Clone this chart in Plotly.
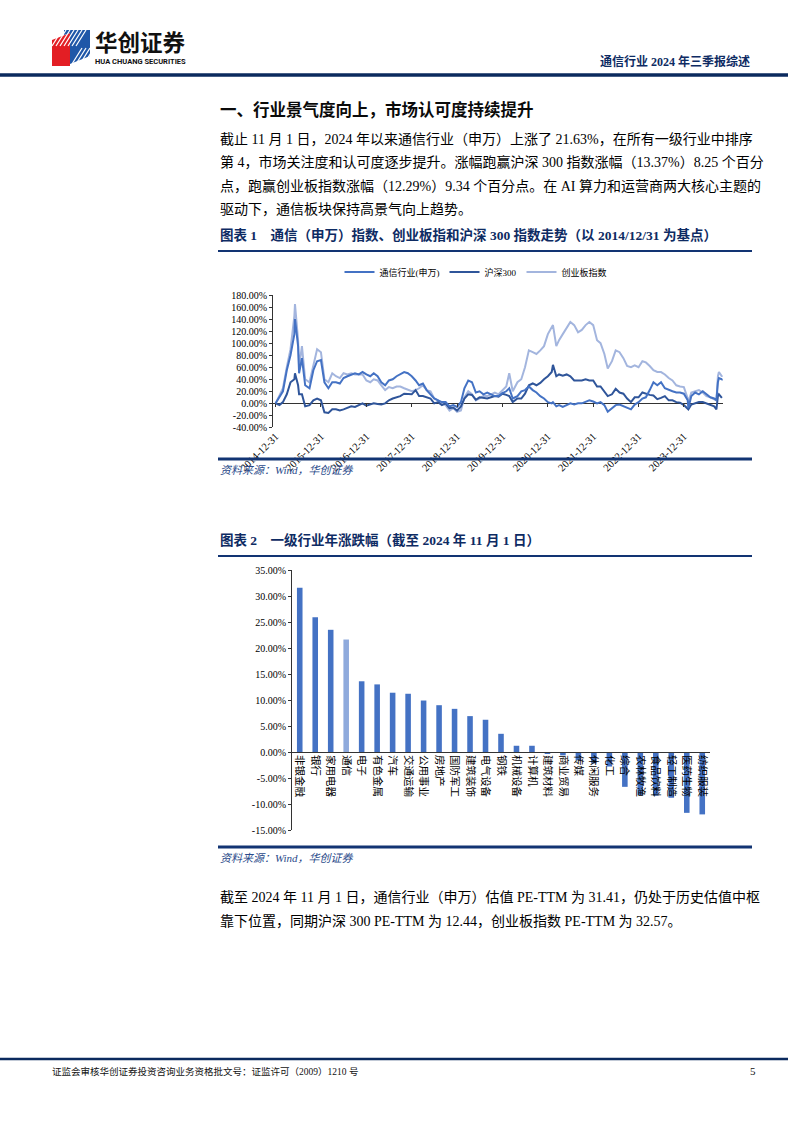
import plotly.graph_objects as go

W, H = 794, 1123


def px(x):
    return x / W


def py(y):
    return 1 - y / H


# ---------------- Chart 1 data (cumulative change since 2014-12-31, %) ----------------
dates = [
    "2014-12-31", "2015-01-31", "2015-02-28", "2015-03-31", "2015-04-30", "2015-05-31",
    "2015-06-05", "2015-06-30", "2015-07-08", "2015-07-31", "2015-08-26", "2015-09-30",
    "2015-10-31", "2015-11-30", "2015-12-31", "2016-01-28", "2016-02-29", "2016-03-31",
    "2016-04-30", "2016-05-31", "2016-06-30", "2016-07-31", "2016-08-31", "2016-09-30",
    "2016-10-31", "2016-11-30", "2016-12-31", "2017-01-31", "2017-02-28", "2017-03-31",
    "2017-04-30", "2017-05-31", "2017-06-30", "2017-07-31", "2017-08-31", "2017-09-30",
    "2017-10-31", "2017-11-30", "2017-12-31", "2018-01-31", "2018-02-28", "2018-03-31",
    "2018-04-30", "2018-05-31", "2018-06-30", "2018-07-31", "2018-08-31", "2018-09-30",
    "2018-10-31", "2018-11-30", "2018-12-31", "2019-01-31", "2019-02-28", "2019-03-31",
    "2019-04-30", "2019-05-31", "2019-06-30", "2019-07-31", "2019-08-31", "2019-09-30",
    "2019-10-31", "2019-11-30", "2019-12-31", "2020-01-31", "2020-02-24", "2020-03-23",
    "2020-04-30", "2020-05-31", "2020-06-30", "2020-07-31", "2020-08-31", "2020-09-30",
    "2020-10-31", "2020-11-30", "2020-12-31", "2021-01-31", "2021-02-10", "2021-03-09",
    "2021-03-31", "2021-04-30", "2021-05-31", "2021-06-30", "2021-07-31", "2021-08-31",
    "2021-09-30", "2021-10-31", "2021-11-30", "2021-12-31", "2022-01-31", "2022-02-28",
    "2022-03-31", "2022-04-27", "2022-05-31", "2022-06-30", "2022-07-31", "2022-08-31",
    "2022-09-30", "2022-10-31", "2022-11-30", "2022-12-31", "2023-01-31", "2023-02-28",
    "2023-03-31", "2023-04-30", "2023-05-31", "2023-06-30", "2023-07-31", "2023-08-31",
    "2023-09-30", "2023-10-31", "2023-11-30", "2023-12-31", "2024-01-31", "2024-02-05",
    "2024-02-29", "2024-03-31", "2024-04-30", "2024-05-31", "2024-06-30", "2024-07-31",
    "2024-08-31", "2024-09-18", "2024-09-30", "2024-10-08", "2024-10-31", "2024-11-01",
]

telecom = [
    0, 10, 20, 55, 80, 115,
    140, 95, 50, 75, 30, 25,
    55, 70, 72, 35, 25, 35,
    35, 33, 42, 45, 48, 50,
    48, 52, 48, 45, 50, 45,
    35, 30, 38, 40, 45, 48,
    52, 50, 45, 38, 30, 33,
    22, 15, 8, 5, 2, 2,
    -5, -3, -6, 2, 25, 38,
    35, 18, 20, 15, 18, 15,
    12, 12, 17, 20, 25, 8,
    12, 20, 22, 28, 22, 18,
    12, 8, 2, 0, 2, -5,
    -3, -6, -3, 0, -2, 0,
    0, 2, 5, 3, 0, 2,
    -3, -14, -8, -3, -2, -5,
    -8, -10, -2, 2, 8, 10,
    22, 35, 30, 35, 25, 22,
    20, 18, 18, 16, 5, -8,
    12, 18, 15, 20, 15, 10,
    8, 5, 35, 42, 40, 41,
]

hs300 = [
    0, -3, 2, 15, 35, 40,
    50, 30, 15, 15, -5, -3,
    5, 8, 5, -15, -16, -10,
    -10, -12, -10, -8, -5, -6,
    -3, 0, -4, -2, 0, -1,
    -2, 0, 5, 8, 10, 12,
    16, 15, 15, 22, 12, 12,
    10, 8, 0, 2, -3, 0,
    -8, -7, -12, -5, 8, 15,
    14, 6, 10, 9, 8, 10,
    12, 11, 16, 14, 12, 2,
    8, 8, 16, 30, 33, 30,
    34, 40, 45, 52, 64, 45,
    48, 46, 48, 45, 38, 38,
    38, 40, 38, 38, 28, 28,
    20, 12, 15, 24, 18, 16,
    8, 2, 10, 10, 18, 16,
    14, 13, 7, 9, 12, 5,
    5, 2, 1, -3, -8, -10,
    -2, 0, 2, 2, 0, -3,
    -5, -10, 12, 15, 10, 9,
]

chinext = [
    0, 12, 25, 60, 90, 145,
    165, 105, 60, 95, 40, 35,
    65, 90, 85, 40, 35, 50,
    45, 42, 50, 48, 50, 48,
    48, 48, 38, 35, 40, 38,
    30, 22, 27, 25, 28, 28,
    25, 22, 20, 22, 25, 30,
    22, 20, 8, 5, 0, -3,
    -12, -8, -14, -12, 10, 20,
    15, 5, 8, 12, 12, 15,
    18, 15, 22, 28, 50, 20,
    35, 40, 60, 88, 85, 82,
    88, 95, 115, 125, 130, 95,
    105, 115, 125, 135, 130, 118,
    122, 130, 135, 130, 105, 100,
    82, 58, 70, 88, 85, 75,
    62, 60, 63, 60, 70, 68,
    62, 55, 52, 52, 48, 42,
    38, 30, 28, 27, 8, 2,
    18, 20, 22, 18, 12, 10,
    6, 5, 45, 52, 45, 44,
]

year_ticks = ["2014-12-31", "2015-12-31", "2016-12-31", "2017-12-31", "2018-12-31",
              "2019-12-31", "2020-12-31", "2021-12-31", "2022-12-31", "2023-12-31"]
y1_ticks = [-40, -20, 0, 20, 40, 60, 80, 100, 120, 140, 160, 180]

# ---------------- Chart 2 data (YTD change to 2024-11-01, %) ----------------
industries = ["非银金融", "银行", "家用电器", "通信", "电子", "有色金属", "汽车", "交通运输",
              "公用事业", "房地产", "国防军工", "建筑装饰", "电气设备", "钢铁", "机械设备",
              "计算机", "建筑材料", "商业贸易", "传媒", "休闲服务", "化工", "综合",
              "农林牧渔", "食品饮料", "轻工制造", "医药生物", "纺织服装"]
returns = [31.6, 25.9, 23.5, 21.63, 13.6, 13.0, 11.4, 11.2,
           9.9, 9.0, 8.3, 6.9, 6.2, 3.5, 1.2,
           1.2, -0.2, -0.65, -1.6, -2.2, -2.8, -6.7,
           -8.3, -8.4, -8.8, -11.7, -12.0]
y2_ticks = [-15, -10, -5, 0, 5, 10, 15, 20, 25, 30, 35]

# ---------------- styles ----------------
SERIF = "Liberation Serif, Times New Roman, Noto Sans CJK SC"
NAVY = "#123473"
TITLE_NAVY = "#0E2B63"
C_TEL = "#4472C4"
C_HS = "#2F559A"
C_CY = "#A3B5DE"
C_BAR = "#4472C4"
C_BAR_HI = "#8FAADC"


def pct_label(v):
    return f"{v:.2f}%"


fig = go.Figure()

# Chart 1 lines
fig.add_trace(go.Scatter(x=dates, y=chinext, name="创业板指数", mode="lines",
                         line=dict(color=C_CY, width=2), legendrank=3,
                         xaxis="x", yaxis="y"))
fig.add_trace(go.Scatter(x=dates, y=hs300, name="沪深300", mode="lines",
                         line=dict(color=C_HS, width=2), legendrank=2,
                         xaxis="x", yaxis="y"))
fig.add_trace(go.Scatter(x=dates, y=telecom, name="通信行业(申万)", mode="lines",
                         line=dict(color=C_TEL, width=2), legendrank=1,
                         xaxis="x", yaxis="y"))
# helper trace for the tick-mark axis at zero
fig.add_trace(go.Scatter(x=[dates[0]], y=[0], mode="markers", marker=dict(opacity=0),
                         showlegend=False, hoverinfo="skip", xaxis="x2", yaxis="y"))

# Chart 2 bars
bar_colors = [C_BAR_HI if n == "通信" else C_BAR for n in industries]
fig.add_trace(go.Bar(x=industries, y=returns, marker=dict(color=bar_colors, line=dict(width=0)),
                     showlegend=False, xaxis="x3", yaxis="y3"))

# domains
y1_dom = [py(427.4), py(295)]
y1_rng = [-40, 180]
y1_zero = y1_dom[0] + (0 - y1_rng[0]) / (y1_rng[1] - y1_rng[0]) * (y1_dom[1] - y1_dom[0])
y2_dom = [py(830), py(570)]
y2_rng = [-15, 35]
y2_zero = y2_dom[0] + (0 - y2_rng[0]) / (y2_rng[1] - y2_rng[0]) * (y2_dom[1] - y2_dom[0])
x_rng = ["2014-12-10", "2024-11-10"]

axis_font = dict(family=SERIF, size=10, color="#000")

fig.update_layout(
    width=W, height=H, margin=dict(l=0, r=0, t=0, b=0, pad=0, autoexpand=False),
    paper_bgcolor="white", plot_bgcolor="rgba(0,0,0,0)",
    font=dict(family=SERIF, color="#000"),
    showlegend=True,
    legend=dict(orientation="h", x=px(476), xanchor="center", y=py(272), yanchor="middle",
                font=dict(family=SERIF, size=9, color="#000"), itemwidth=30,
                bgcolor="rgba(0,0,0,0)", traceorder="normal"),
    bargap=0.64,
    xaxis=dict(domain=[px(273), px(723)], anchor="y", type="date", range=x_rng,
               tickmode="array", tickvals=year_ticks, ticktext=year_ticks, tickangle=-45,
               tickfont=dict(family=SERIF, size=10.5, color="#000"), showgrid=False,
               showline=False, ticks="", zeroline=False, automargin=False),
    xaxis2=dict(overlaying="x", anchor="free", position=y1_zero, side="bottom", type="date",
                range=x_rng, tickmode="array", tickvals=year_ticks, showticklabels=False,
                ticks="outside", ticklen=3, tickcolor="#333", showgrid=False, showline=False,
                zeroline=False, automargin=False),
    yaxis=dict(domain=y1_dom, anchor="x", range=y1_rng, tickmode="array", tickvals=y1_ticks,
               ticktext=[pct_label(v) for v in y1_ticks], tickfont=axis_font,
               showline=True, linecolor="#333", linewidth=1, ticks="outside", ticklen=3,
               tickcolor="#333", showgrid=False, zeroline=True, zerolinecolor="#333",
               zerolinewidth=1.2, automargin=False),
    xaxis3=dict(domain=[px(292), px(710)], anchor="free", position=y2_zero, type="category",
                tickangle=90, tickfont=dict(family=SERIF, size=10.5, color="#000"),
                showline=True, linecolor="#333", linewidth=1, ticks="", showgrid=False,
                zeroline=False, automargin=False),
    yaxis3=dict(domain=y2_dom, anchor="x3", range=y2_rng, tickmode="array", tickvals=y2_ticks,
                ticktext=[pct_label(v) for v in y2_ticks], tickfont=axis_font,
                showline=True, linecolor="#333", linewidth=1, ticks="outside", ticklen=3,
                tickcolor="#333", showgrid=False, zeroline=False, automargin=False),
)

shapes = []


def hline(y, x0, x1, width, color=NAVY):
    shapes.append(dict(type="line", xref="paper", yref="paper", x0=px(x0), x1=px(x1),
                       y0=py(y), y1=py(y), line=dict(color=color, width=width)))


def poly(points, color):
    d = "M " + " L ".join(f"{px(a):.5f} {py(b):.5f}" for a, b in points) + " Z"
    shapes.append(dict(type="path", xref="paper", yref="paper", path=d,
                       fillcolor=color, line=dict(width=0)))


# header & page rules
hline(75, 0, 788, 3.5, "#0B2A5E")
hline(1059, 0, 788, 2.5, "#0B2A5E")
# chart frames
hline(251, 218, 752, 2)
hline(459, 218, 752, 3)
hline(556, 218, 752, 2)
hline(847, 218, 752, 3)

# logo
poly([(52, 40), (70, 33), (70, 66), (52, 66)], "#E31E24")
poly([(64, 30), (90, 30), (90, 56), (70, 64), (70, 33), (64, 35)], "#1F57A8")
for k in range(7):
    x0 = 52 + 4 * k
    shapes.append(dict(type="line", xref="paper", yref="paper",
                       x0=px(x0), y0=py(46), x1=px(x0 + 10), y1=py(30),
                       line=dict(color="white", width=1.2)))
for k in range(5):
    x0 = 72 + 4 * k
    shapes.append(dict(type="line", xref="paper", yref="paper",
                       x0=px(x0), y0=py(64), x1=px(x0 + 10), y1=py(48),
                       line=dict(color="white", width=1.2)))

annotations = []


def text(x, y, s, size, color="#000", xanchor="left", family=SERIF):
    annotations.append(dict(x=px(x), y=py(y), xref="paper", yref="paper", text=s,
                            showarrow=False, xanchor=xanchor, yanchor="middle",
                            font=dict(family=family, size=size, color=color)))


# header texts
text(93, 41, "<b>华创证券</b>", 22.5, "#111", family="Noto Sans CJK SC")
text(93, 62, "<b>HUA CHUANG SECURITIES</b>", 7.5, "#111", family="Roboto, Noto Sans")
text(752, 62, "<b>通信行业 2024 年三季报综述</b>", 12, TITLE_NAVY, xanchor="right")

# body
text(218, 110, "<b>一、行业景气度向上，市场认可度持续提升</b>", 16.5, "#0A0A0A")
body = [
    "截止 11 月 1 日，2024 年以来通信行业（申万）上涨了 21.63%，在所有一级行业中排序",
    "第 4，市场关注度和认可度逐步提升。涨幅跑赢沪深 300 指数涨幅（13.37%）8.25 个百分",
    "点，跑赢创业板指数涨幅（12.29%）9.34 个百分点。在 AI 算力和运营商两大核心主题的",
    "驱动下，通信板块保持高景气向上趋势。",
]
for i, line in enumerate(body):
    text(218, 139 + i * 23.5, line, 14)

text(218, 235, "<b>图表 1　通信（申万）指数、创业板指和沪深 300 指数走势（以 2014/12/31 为基点）</b>",
     13.5, TITLE_NAVY)
text(218, 470, "<i>资料来源：Wind，华创证券</i>", 11, "#2A4A8A")
text(218, 540, "<b>图表 2　一级行业年涨跌幅（截至 2024 年 11 月 1 日）</b>", 13.5, TITLE_NAVY)
text(218, 858, "<i>资料来源：Wind，华创证券</i>", 11, "#2A4A8A")

tail = [
    "截至 2024 年 11 月 1 日，通信行业（申万）估值 PE-TTM 为 31.41，仍处于历史估值中枢",
    "靠下位置，同期沪深 300 PE-TTM 为 12.44，创业板指数 PE-TTM 为 32.57。",
]
for i, line in enumerate(tail):
    text(218, 897 + i * 24, line, 14)

# footer
text(50, 1071, "证监会审核华创证券投资咨询业务资格批文号：证监许可（2009）1210 号", 9.5, "#111")
text(748, 1071, "5", 11, "#111")

fig.update_layout(shapes=shapes, annotations=annotations)
fig.write_html("out.html")
